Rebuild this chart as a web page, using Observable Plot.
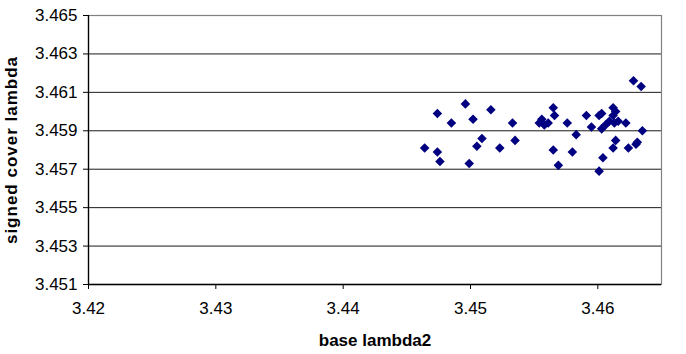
<!DOCTYPE html>
<html>
<head>
<meta charset="utf-8">
<script src="https://cdn.jsdelivr.net/npm/d3@7"></script>
<script src="https://cdn.jsdelivr.net/npm/@observablehq/plot@0.6"></script>
<style>
  html, body { margin: 0; padding: 0; background: #fff; }
  #chart { width: 686px; height: 354px; }
</style>
</head>
<body>
<div id="chart"></div>
<script>
const baseLambda2 = [
  3.4464, 3.4474, 3.4474, 3.4476, 3.4485, 3.4496, 3.4499, 3.4502, 3.4505, 3.4509,
  3.4516, 3.4523, 3.4533, 3.4535, 3.4554, 3.4556, 3.4558, 3.4561, 3.4565, 3.4566,
  3.4565, 3.4569, 3.4576, 3.4580, 3.4583, 3.4591, 3.4595, 3.4601, 3.4603, 3.4603,
  3.4606, 3.4609, 3.4604, 3.4601, 3.4612, 3.4614, 3.4612, 3.4616, 3.4613, 3.4622,
  3.4612, 3.4614, 3.4624, 3.4630, 3.4631, 3.4628, 3.4634, 3.4635
];
const signedCoverLambda = [
  3.4581, 3.4599, 3.4579, 3.4574, 3.4594, 3.4604, 3.4573, 3.4596, 3.4582, 3.4586,
  3.4601, 3.4581, 3.4594, 3.4585, 3.4594, 3.4596, 3.4593, 3.4594, 3.4602, 3.4598,
  3.4580, 3.4572, 3.4594, 3.4579, 3.4588, 3.4598, 3.4592, 3.4598, 3.4599, 3.4591,
  3.4593, 3.4595, 3.4576, 3.4569, 3.4602, 3.4600, 3.4598, 3.4595, 3.4594, 3.4594,
  3.4581, 3.4585, 3.4581, 3.4583, 3.4584, 3.4616, 3.4613, 3.4590
];
const xTicks = [3.42, 3.43, 3.44, 3.45, 3.46];
const yTicks = [3.451, 3.453, 3.455, 3.457, 3.459, 3.461, 3.463, 3.465];
const xDomain = [3.42, 3.465];
const yDomain = [3.451, 3.465];

const points = baseLambda2.map((x, i) => ({x, y: signedCoverLambda[i]}));

const chart = Plot.plot({
  width: 686,
  height: 354,
  marginLeft: 88,
  marginRight: 25,
  marginTop: 15,
  marginBottom: 70,
  style: {fontFamily: "'Liberation Sans', Arial, sans-serif", fontSize: "17px", color: "#000", background: "#fff", overflow: "visible"},
  x: {domain: xDomain},
  y: {domain: yDomain},
  marks: [
    Plot.ruleY(yTicks, {stroke: "#000", strokeWidth: 1, strokeOpacity: 0.9}),
    Plot.frame({stroke: "#808080", strokeWidth: 1.2}),
    Plot.ruleX([xDomain[0]], {stroke: "#000", strokeWidth: 1.3}),
    Plot.ruleY([yDomain[0]], {stroke: "#000", strokeWidth: 1.3}),
    Plot.axisX({ticks: xTicks, tickFormat: d3.format(".2f"), tickSize: 5, tickPadding: 12, stroke: "#000",
      label: "base lambda2", labelAnchor: "center", labelArrow: "none", labelOffset: 61,
      fontSize: 17}),
    Plot.axisY({ticks: yTicks, tickFormat: d3.format(".3f"), tickSize: 5, tickPadding: 6, stroke: "#000",
      label: "signed cover lambda", labelAnchor: "center", labelArrow: "none", labelOffset: 84,
      fontSize: 17}),
    Plot.dot(points, {x: "x", y: "y", symbol: "diamond2", r: 4.3, fill: "#000080", stroke: "none"})
  ]
});
document.getElementById("chart").appendChild(chart);
d3.select(chart).selectAll("[aria-label='x-axis label'] text")
  .style("font-weight", "bold");
d3.select(chart).selectAll("[aria-label='y-axis label'] text")
  .style("font-weight", "bold").style("letter-spacing", "1px");
</script>
</body>
</html>
